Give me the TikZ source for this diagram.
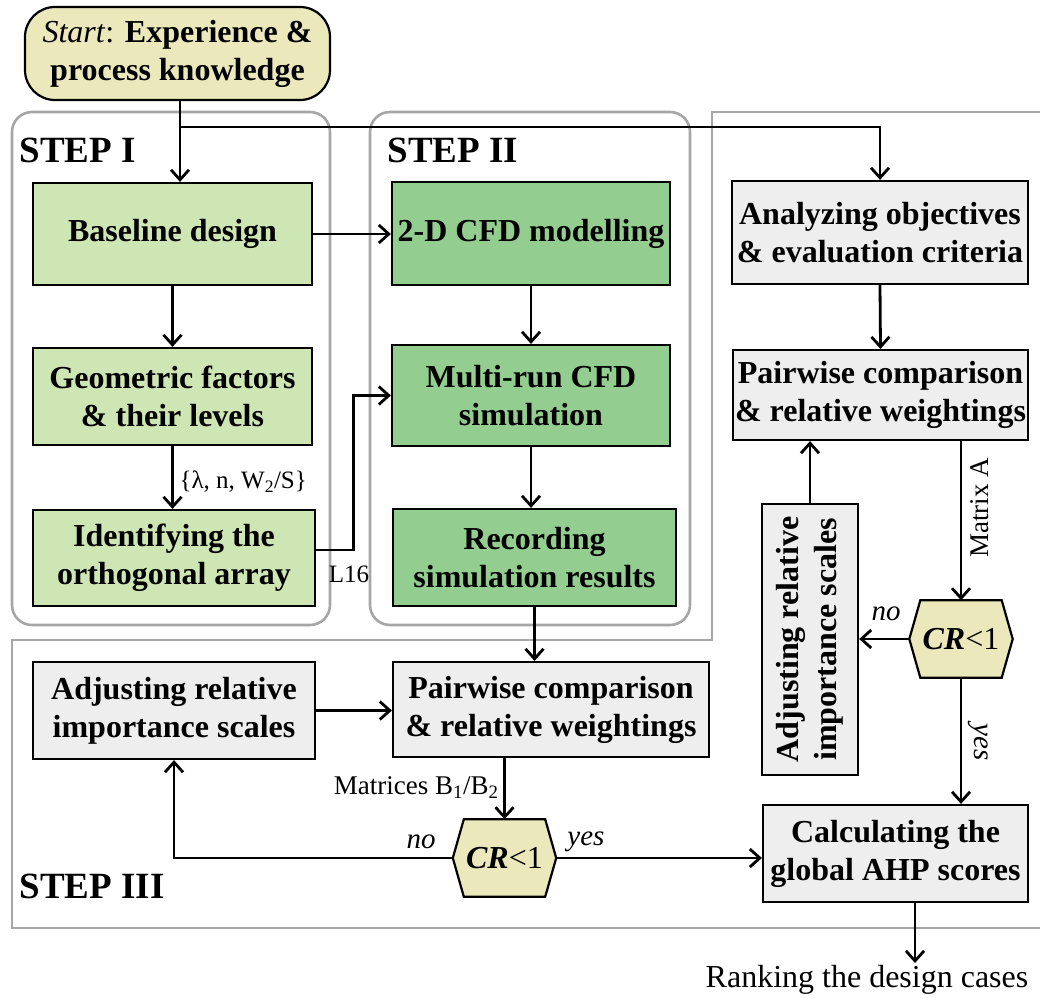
\documentclass[tikz,border=0pt]{standalone}
\usepackage{fontspec}
\setmainfont{Liberation Serif}
\usetikzlibrary{arrows.meta,backgrounds}
\definecolor{lgreenc}{RGB}{206,229,180}
\definecolor{dgreenc}{RGB}{147,205,143}
\definecolor{greyc}{RGB}{238,238,238}
\definecolor{yellowc}{RGB}{235,232,188}
\definecolor{grpc}{RGB}{166,166,166}
\newcommand\drawhex[1]{%
  \begin{scope}[on background layer]
    \filldraw[fill=yellowc,draw=black,line width=2.2pt,line join=miter]
      (#1.west) -- ([xshift=11pt]#1.north west) -- ([xshift=-11pt]#1.north east)
      -- (#1.east) -- ([xshift=-11pt]#1.south east) -- ([xshift=11pt]#1.south west) -- cycle;
  \end{scope}}
\begin{document}
\begin{tikzpicture}[x=1pt,y=-1pt,
  every node/.style={align=center, font=\fontsize{32}{38}\selectfont},
  box/.style={draw=black, line width=2.2pt, inner sep=2pt, font=\fontsize{32}{38}\selectfont\bfseries},
  lgbox/.style={box, fill=lgreenc},
  dgbox/.style={box, fill=dgreenc},
  gbox/.style={box, fill=greyc},
  hexnode/.style={inner sep=0pt, minimum width=103pt, minimum height=77pt},
  conn/.style={line width=2.8pt, -{Straight Barb[length=10pt,width=18pt,line width=2.8pt]}},
  wire/.style={line width=2.8pt},
  group/.style={draw=grpc, line width=2.6pt, rounded corners=20pt},
  steplabel/.style={anchor=west, font=\fontsize{37}{42}\selectfont\bfseries},
  lab/.style={font=\fontsize{27}{32}\selectfont},
  smalllab/.style={font=\fontsize{25}{30}\selectfont},
  answer/.style={font=\fontsize{29}{32}\selectfont\itshape},
]
\useasboundingbox (0,0) rectangle (1040,998);

% grouping frames
\draw[group] (12,112) rectangle (330,625);
\draw[group] (370,112) rectangle (690,625);
\draw[draw=grpc, line width=2.6pt] (1041,112) -- (712,112) -- (712,640) -- (12,640) -- (12,928) -- (1041,928);

\node[steplabel] at (16,150) {STEP I};
\node[steplabel] at (384,150) {STEP II};
\node[steplabel] at (16,886) {STEP III};

% start
\node[draw=black, line width=2.2pt, fill=yellowc, rounded corners=30pt,
      minimum width=305pt, minimum height=93pt, inner sep=2pt] (start) at (177.5,53.5)
  {\textit{Start}: \textbf{Experience \&}\\\textbf{process knowledge}};

% step I
\node[lgbox, minimum width=279pt, minimum height=102pt] (baseline) at (172.5,234) {Baseline design};
\node[lgbox, minimum width=279pt, minimum height=97pt] (geom) at (172.5,396.5) {Geometric factors\\\& their levels};
\node[lgbox, minimum width=282pt, minimum height=96pt] (ident) at (174,558) {Identifying the\\orthogonal array};

% step II
\node[dgbox, minimum width=278pt, minimum height=103pt] (cfd) at (531,233.5) {2-D CFD modelling};
\node[dgbox, minimum width=278pt, minimum height=101pt] (multi) at (531,395.5) {Multi-run CFD\\simulation};
\node[dgbox, minimum width=283pt, minimum height=97pt] (record) at (534.5,557.5) {Recording\\simulation results};

% step III, right column
\node[gbox, minimum width=296pt, minimum height=103pt] (analyz) at (880,232.5) {Analyzing objectives\\\& evaluation criteria};
\node[gbox, minimum width=295pt, minimum height=90pt] (pairR) at (880.5,395) {Pairwise comparison\\\& relative weightings};
\node[gbox, rotate=90, minimum width=271pt, minimum height=96pt] (adjV) at (810,639.5) {Adjusting relative\\importance scales};
\node[hexnode] (crR) at (961,639) {\textbf{\textit{CR}}<1};
\drawhex{crR}
\node[gbox, minimum width=265pt, minimum height=97pt] (calc) at (895.5,853.5) {Calculating the\\global AHP scores};
\node[inner sep=1pt] (rank) at (867,980) {Ranking the design cases};

% step III, bottom row
\node[gbox, minimum width=282pt, minimum height=97pt] (adjH) at (174,710.5) {Adjusting relative\\importance scales};
\node[gbox, minimum width=316pt, minimum height=95pt] (pairB) at (551,709.5) {Pairwise comparison\\\& relative weightings};
\node[hexnode] (crB) at (504.5,858) {\textbf{\textit{CR}}<1};
\drawhex{crB}

% connectors
\coordinate (split) at (180,127);
\draw[wire] (start.south -| split) -- (split);
\draw[conn] (split) -- (split |- baseline.north);
\draw[conn] (split) -| (analyz.north);
\draw[conn] (baseline.east) -- (baseline.east -| cfd.west);
\draw[conn] (baseline.south) -- (geom.north);
\draw[conn] (geom.south) -- (geom.south |- ident.north);
\draw[conn] ([yshift=8pt]ident.east) -- ++(37,0) |- (multi.west);
\draw[conn] (cfd.south) -- (multi.north);
\draw[conn] (multi.south) -- (multi.south |- record.north);
\draw[conn] (record.south) -- (record.south |- pairB.north);
\draw[conn] (adjH.east) -- (adjH.east -| pairB.west);
\draw[conn] (crB.north |- pairB.south) -- (crB.north);
\draw[conn] (crB.west) -| (adjH.south);
\draw[conn] (crB.east) -- (crB.east -| calc.west);
\draw[conn] (analyz.south) -- (pairR.north);
\draw[conn] (crR.north |- pairR.south) -- (crR.north);
\draw[conn] (crR.west) -- (crR.west -| adjV.south);
\draw[conn] (adjV.east) -- (adjV.east |- pairR.south);
\draw[conn] (crR.south) -- (crR.south |- calc.north);
\coordinate (rankin) at (915,963);
\draw[conn] (calc.south -| rankin) -- (rankin);

% connector labels
\node[smalllab, anchor=west] at (176,482) {\{λ, n, W\textsubscript{2}/S\}};
\node[smalllab] at (349,574) {L16};
\node[lab, anchor=east] at (502,788) {Matrices B\textsubscript{1}/B\textsubscript{2}};
\node[answer] at (421,842) {no};
\node[answer] at (586,842) {yes};
\node[answer] at (886,614) {no};
\node[answer, rotate=-90] at (978,742) {yes};
\node[lab, rotate=90] at (980,508) {Matrix A};
\end{tikzpicture}
\end{document}
